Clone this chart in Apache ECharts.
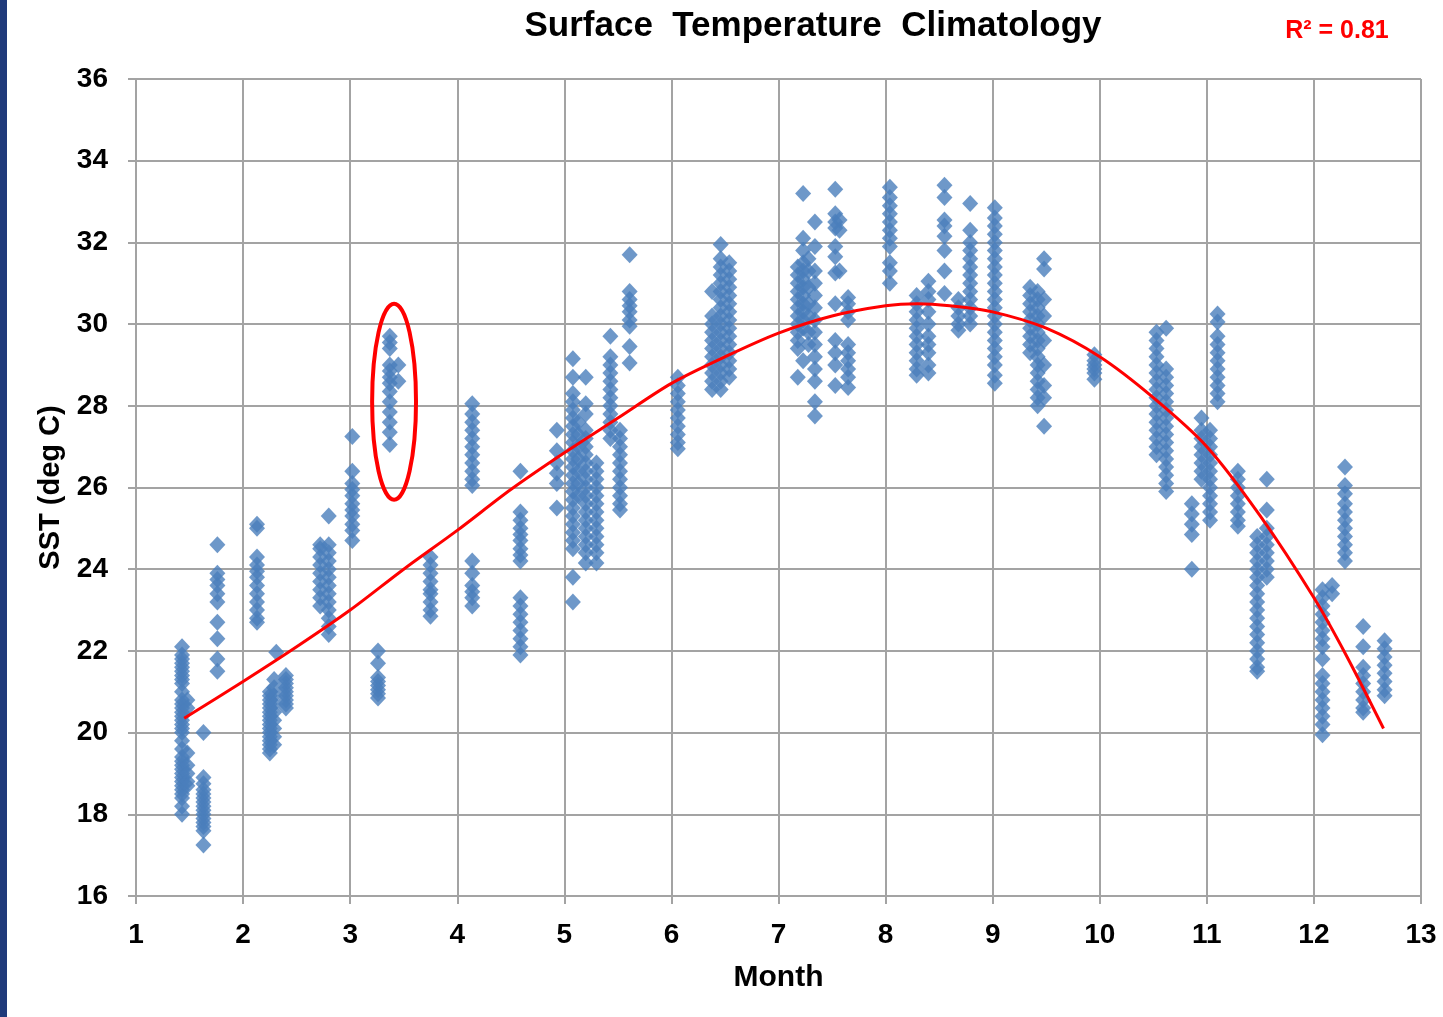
<!DOCTYPE html>
<html>
<head>
<meta charset="utf-8">
<script src="https://cdn.jsdelivr.net/npm/echarts@6/dist/echarts.min.js"></script>
<style>
html,body{margin:0;padding:0;background:#fff;}
#chart{width:1443px;height:1017px;}
</style>
</head>
<body>
<div id="chart"></div>
<script>
// ---- Data (month position, SST values at that position) ----
const clustersJanMar = [
  [1.43, [22.1,21.9,21.8,21.7,21.6,21.5,21.4,21.3,21.2,21.0,20.8,20.7,20.6,20.5,20.4,20.3,20.2,20.1,20.0,19.8,19.6,19.4,19.3,19.2,19.1,19.0,18.9,18.8,18.7,18.6,18.5,18.4,18.2,18.0]],
  [1.48, [20.8,20.6,19.5,19.2,19.0,18.8,18.7]],
  [1.63, [20.0,18.9,18.75,18.6,18.5,18.4,18.3,18.2,18.1,18.0,17.9,17.8,17.7,17.6,17.25]],
  [1.76, [24.6,23.9,23.75,23.6,23.4,23.2,22.7,22.3,21.8,21.5]],
  [2.13, [25.1,25.0,24.3,24.1,23.95,23.8,23.6,23.4,23.2,23.0,22.8,22.7]],
  [2.25, [21.0,20.9,20.8,20.7,20.6,20.5,20.4,20.3,20.2,20.1,20.0,19.9,19.8,19.7,19.6,19.5]],
  [2.29, [21.3,21.1,20.9,20.7,20.5,20.3,20.1,19.9,19.7]],
  [2.31, [21.97]],
  [2.4, [21.4,21.3,21.2,21.1,21.0,20.9,20.8,20.7,20.6]],
  [2.72, [24.6,24.5,24.3,24.1,23.9,23.7,23.5,23.3,23.1]],
  [2.8, [25.3,24.6,24.4,24.2,24.0,23.8,23.6,23.4,23.2,23.0,22.8,22.6,22.4]],
  [3.02, [27.25,26.4,26.1,25.95,25.8,25.6,25.45,25.3,25.1,24.95,24.7]],
  [3.26, [22.0,21.7,21.35,21.25,21.15,21.05,20.95,20.85]],
  [3.37, [29.7,29.55,29.4,29.0,28.85,28.7,28.55,28.35,28.1,27.85,27.6,27.35,27.05]],
  [3.45, [29.0,28.6]]
];
const clustersAprJun = [
  [3.75, [24.3,24.1,23.9,23.7,23.5,23.4,23.2,23.0,22.85]],
  [4.14, [28.05,27.8,27.6,27.4,27.2,27.0,26.8,26.6,26.4,26.2,26.05,24.2,23.9,23.6,23.45,23.3,23.1]],
  [4.59, [26.4,25.4,25.2,25.0,24.85,24.7,24.5,24.35,24.2,23.3,23.1,22.9,22.7,22.5,22.3,22.1,21.9]],
  [4.93, [27.4,26.9,26.6,26.35,26.1,25.5]],
  [5.08, [29.15,28.7,28.3,28.1,27.9,27.7,27.5,27.3,27.1,26.9,26.7,26.5,26.3,26.1,25.9,25.7,25.5,25.3,25.1,24.9,24.7,24.5,23.8,23.2]],
  [5.13, [27.6,27.3,27.0,26.7,26.4,26.1,25.8]],
  [5.2, [28.7,28.05,27.8,27.4,27.2,27.0,26.8,26.6,26.4,26.2,26.0,25.8,25.6,25.4,25.2,25.0,24.8,24.6,24.4,24.15]],
  [5.3, [26.6,26.4,26.2,26.0,25.8,25.6,25.4,25.2,25.0,24.8,24.6,24.4,24.15]],
  [5.43, [29.7,29.2,29.0,28.8,28.6,28.4,28.2,28.0,27.8,27.6,27.4,27.2]],
  [5.52, [27.4,27.2,27.0,26.8,26.6,26.4,26.2,26.0,25.8,25.6,25.45]],
  [5.61, [31.7,30.8,30.6,30.45,30.3,30.1,29.95,29.45,29.05]],
  [6.06, [28.7,28.5,28.3,28.1,27.9,27.7,27.5,27.3,27.1,26.95]],
  [6.38, [30.8,30.2,30.0,29.8,29.6,29.4,29.2,29.0,28.8,28.6,28.4]],
  [6.46, [31.95,31.6,31.4,31.2,31.0,30.8,30.6,30.4,30.2,30.0,29.8,29.6,29.4,29.2,29.0,28.8,28.6,28.4]],
  [6.54, [31.5,31.3,31.1,30.9,30.7,30.5,30.3,30.1,29.9,29.7,29.5,29.3,29.1,28.9,28.7]]
];
const clustersJulSep = [
  [7.18, [31.4,31.2,31.0,30.8,30.6,30.4,30.2,30.0,29.8,29.6,29.4,28.7]],
  [7.23, [33.2,32.1,31.8,31.5,31.3,31.1,30.9,30.7,30.5,30.3,30.1,29.9,29.1]],
  [7.28, [31.6,31.3,30.9,30.5,30.2,29.8,29.5]],
  [7.34, [32.5,31.9,31.3,31.0,30.7,30.4,30.1,29.8,29.5,29.2,28.9,28.6,28.1,27.75]],
  [7.53, [33.3,32.7,32.5,32.35,31.9,31.65,31.25,30.5,29.6,29.3,29.0,28.5]],
  [7.57, [32.55,32.3,31.3]],
  [7.65, [30.65,30.5,30.3,30.1,29.5,29.3,29.1,28.9,28.7,28.45]],
  [8.04, [33.35,33.1,32.9,32.7,32.5,32.3,32.1,31.9,31.5,31.3,31.0]],
  [8.29, [30.7,30.5,30.3,30.1,29.9,29.7,29.5,29.3,29.1,28.9,28.75]],
  [8.4, [31.05,30.8,30.6,30.3,30.0,29.7,29.5,29.3,29.0,28.8]],
  [8.55, [33.4,33.1,32.55,32.4,32.15,31.8,31.3,30.75]],
  [8.68, [30.6,30.4,30.2,30.0,29.85]],
  [8.79, [32.95,32.3,32.0,31.8,31.6,31.4,31.2,31.0,30.8,30.6,30.4,30.2,30.0]],
  [9.02, [32.85,32.6,32.4,32.2,32.0,31.8,31.6,31.4,31.2,31.0,30.8,30.6,30.4,30.2,30.0,29.8,29.6,29.4,29.2,29.0,28.75,28.55]],
  [9.35, [30.9,30.7,30.5,30.3,30.1,29.9,29.7,29.5,29.3]],
  [9.42, [30.8,30.6,30.4,30.2,30.0,29.8,29.6,29.4,29.2,29.0,28.8,28.6,28.4,28.2,28.0]],
  [9.48, [31.6,31.35,30.6,30.2,29.6,29.0,28.5,28.2,27.5]]
];
const clustersOctDec = [
  [9.95, [29.25,29.1,29.0,28.9,28.8,28.65]],
  [10.53, [29.8,29.6,29.4,29.2,29.0,28.8,28.6,28.4,28.2,28.0,27.8,27.6,27.4,27.2,27.0,26.8]],
  [10.62, [29.9,28.9,28.7,28.5,28.3,28.1,27.9,27.7,27.5,27.3,27.1,26.9,26.7,26.5,26.3,26.1,25.9]],
  [10.86, [25.6,25.35,25.1,24.85,24.0]],
  [10.95, [27.7,27.4,27.2,27.0,26.8,26.6,26.4,26.2]],
  [11.03, [27.4,27.2,27.0,26.8,26.6,26.4,26.2,26.0,25.8,25.6,25.4,25.2]],
  [11.1, [30.25,30.05,29.7,29.5,29.3,29.1,28.9,28.7,28.5,28.3,28.1]],
  [11.29, [26.4,26.2,26.0,25.8,25.6,25.4,25.2,25.05]],
  [11.47, [24.8,24.6,24.4,24.2,24.0,23.8,23.6,23.4,23.2,23.0,22.8,22.6,22.4,22.2,22.0,21.8,21.6,21.5]],
  [11.56, [26.2,25.45,25.0,24.8,24.6,24.4,24.2,24.0,23.8]],
  [12.08, [23.5,23.3,23.1,22.9,22.7,22.5,22.3,22.1,21.8,21.4,21.2,21.0,20.8,20.6,20.4,20.2,19.95]],
  [12.17, [23.6,23.4]],
  [12.29, [26.5,26.05,25.85,25.6,25.4,25.2,25.0,24.8,24.6,24.4,24.2]],
  [12.46, [22.6,22.1,21.6,21.4,21.2,21.0,20.8,20.6,20.5]],
  [12.66, [22.25,22.05,21.85,21.65,21.45,21.25,21.05,20.9]]
];
// Trend line
const trendMonths = [1.45,2,2.5,3,3.5,4,4.5,5,5.5,6,6.5,7,7.5,8,8.3,8.6,9,9.5,10,10.5,11,11.5,12,12.3,12.65];
const trendSST    = [20.35,21.25,22.1,23.0,24.0,24.95,25.95,26.85,27.7,28.55,29.2,29.78,30.2,30.45,30.5,30.45,30.3,29.9,29.2,28.2,27.0,25.3,23.3,21.9,20.1];
// Axis ticks
const xTicks = [1,2,3,4,5,6,7,8,9,10,11,12,13];
const yTicks = [16,18,20,22,24,26,28,30,32,34,36];
const titleText = 'Surface  Temperature  Climatology';
const r2Text = 'R\u00B2 = 0.81';
// Highlight ellipse (data units): centre and half-extents
const highlightCenter = [3.41, 28.1];
const highlightHalf = [0.205, 2.4];

const points = [];
[clustersJanMar, clustersAprJun, clustersJulSep, clustersOctDec].forEach(group => {
  group.forEach(([m, vals]) => vals.forEach(v => points.push([m, v])));
});
const trend = trendMonths.map((m, i) => [m, trendSST[i]]);

const FONT = '"Liberation Sans", Arial, sans-serif';
const GRID = '#a3a3a3';
const chart = echarts.init(document.getElementById('chart'), null, {renderer: 'canvas'});
chart.setOption({
  animation: false,
  backgroundColor: '#fff',
  grid: {left: 136, right: 22, top: 79, bottom: 121},
  xAxis: {
    type: 'value', min: xTicks[0], max: xTicks[xTicks.length - 1], interval: 1,
    name: 'Month', nameLocation: 'middle', nameGap: 67,
    nameTextStyle: {fontFamily: FONT, fontWeight: 'bold', fontSize: 30, color: '#000'},
    axisLine: {show: true, lineStyle: {color: GRID, width: 2}},
    axisTick: {show: true, length: 8, lineStyle: {color: GRID, width: 2}},
    axisLabel: {fontFamily: FONT, fontWeight: 'bold', fontSize: 28, color: '#000', margin: 25},
    splitLine: {show: true, lineStyle: {color: GRID, width: 2}}
  },
  yAxis: {
    type: 'value', min: yTicks[0], max: yTicks[yTicks.length - 1], interval: 2,
    name: 'SST (deg C)', nameLocation: 'middle', nameGap: 64, nameRotate: 90,
    nameTextStyle: {fontFamily: FONT, fontWeight: 'bold', fontSize: 29, color: '#000'},
    axisLine: {show: true, lineStyle: {color: GRID, width: 2}},
    axisTick: {show: true, length: 8, lineStyle: {color: GRID, width: 2}},
    axisLabel: {fontFamily: FONT, fontWeight: 'bold', fontSize: 28, color: '#000', margin: 28},
    splitLine: {show: true, lineStyle: {color: GRID, width: 2}}
  },
  series: [
    {
      type: 'scatter', data: points, symbol: 'diamond', symbolSize: [16, 17],
      itemStyle: {color: '#4a7ebb'}, z: 2
    },
    {
      type: 'line', data: trend, smooth: 0.3, symbol: 'none',
      lineStyle: {color: '#ff0000', width: 3}, z: 3
    }
  ]
});

const c = chart.convertToPixel({gridIndex: 0}, highlightCenter);
const e = chart.convertToPixel({gridIndex: 0}, [highlightCenter[0] + highlightHalf[0], highlightCenter[1] + highlightHalf[1]]);
chart.setOption({
  graphic: [
    {type: 'rect', left: 0, top: 0, shape: {width: 7, height: 1017}, style: {fill: '#1f3a7a'}},
    {type: 'text', x: 813, y: 26, style: {text: titleText, fontFamily: FONT, fontWeight: 'bold', fontSize: 35, fill: '#000', align: 'center', verticalAlign: 'middle'}},
    {type: 'text', x: 1337, y: 31, style: {text: r2Text, fontFamily: FONT, fontWeight: 'bold', fontSize: 25, fill: '#ff0000', align: 'center', verticalAlign: 'middle'}},
    {type: 'ellipse', shape: {cx: c[0], cy: c[1], rx: Math.abs(e[0] - c[0]), ry: Math.abs(c[1] - e[1])}, style: {fill: 'none', stroke: '#ff0000', lineWidth: 4}, z: 10}
  ]
});
</script>
</body>
</html>
